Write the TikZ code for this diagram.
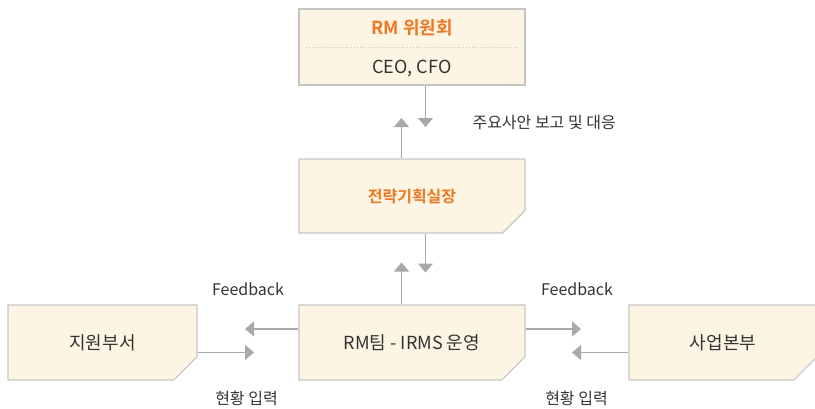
\documentclass[tikz,border=0pt]{standalone}
\usepackage{fontspec}
\setmainfont{Noto Sans CJK KR}[BoldFont={Noto Sans CJK KR Bold}]
\usetikzlibrary{shapes.misc,arrows.meta}
\definecolor{boxfill}{HTML}{FDF5E3}
\definecolor{boxline}{HTML}{C6C6C6}
\definecolor{arrowgray}{HTML}{A9A9AB}
\definecolor{rmorange}{HTML}{EE7723}
\definecolor{textgray}{HTML}{333333}

\begin{document}
\begin{tikzpicture}[x=1pt,y=1pt,
    cutbox/.style={chamfered rectangle, chamfered rectangle corners=south east,
      chamfered rectangle xsep=15pt, chamfered rectangle ysep=15pt,
      draw=boxline, fill=boxfill, line width=1.2pt, inner sep=0pt},
    boxtext/.style={text=textgray, font=\fontsize{18}{21}\selectfont},
    headtext/.style={text=rmorange, font=\fontsize{16}{19}\selectfont\bfseries},
    lbl/.style={text=textgray, font=\fontsize{16}{19}\selectfont},
    flow/.style={draw=arrowgray, line width=1.3pt, -{Triangle[length=9pt,width=15pt]}}]
    \useasboundingbox (0,0) rectangle (815,-408);

    \node[cutbox, minimum width=226pt, minimum height=76pt] (rm) at (412,-47) {};
    \node[headtext, font=\fontsize{18}{21}\selectfont\bfseries] (rmtitle) at (412,-28) {RM 위원회};
    \node[boxtext] (rmmembers) at (412,-68) {CEO, CFO};
    \draw[boxline, line width=0.8pt, dotted] ([xshift=8pt]rm.west) -- ([xshift=-8pt]rm.east);

    \node[cutbox, minimum width=226pt, minimum height=74pt, headtext] (plan) at (412,-196) {전략기획실장};
    \node[cutbox, minimum width=226pt, minimum height=75pt, boxtext] (team) at (412,-342.5) {RM팀 - IRMS 운영};
    \node[cutbox, minimum width=189pt, minimum height=75pt, boxtext] (support) at (102.5,-342.5) {지원부서};
    \node[cutbox, minimum width=188pt, minimum height=75pt, boxtext] (biz) at (723,-342.5) {사업본부};

    % plan <-> committee
    \coordinate (dn1) at (425.5,-127);
    \coordinate (up1) at (401.5,-118);
    \draw[flow] (rm.south -| dn1) -- (dn1);
    \draw[flow] (plan.north -| up1) -- (up1);
    \node[lbl, anchor=west] (report) at (469,-123) {주요사안 보고 및 대응};

    % team <-> plan
    \coordinate (dn2) at (425.5,-272.5);
    \coordinate (up2) at (401.5,-262.5);
    \draw[flow] (plan.south -| dn2) -- (dn2);
    \draw[flow] (team.north -| up2) -- (up2);

    % team <-> support / business
    \coordinate (fbl) at (245,-329);
    \coordinate (inl) at (254,-352.5);
    \coordinate (fbr) at (581,-329);
    \coordinate (inr) at (572,-352.5);
    \draw[flow] (team.west |- fbl) -- (fbl);
    \draw[flow] (support.east |- inl) -- (inl);
    \draw[flow] (team.east |- fbr) -- (fbr);
    \draw[flow] (biz.west |- inr) -- (inr);
    \node[lbl] (fbleft) at (248,-289) {Feedback};
    \node[lbl] (fbright) at (577,-289) {Feedback};
    \node[lbl] (inleft) at (246.5,-398) {현황 입력};
    \node[lbl] (inright) at (576.5,-398) {현황 입력};
\end{tikzpicture}
\end{document}
